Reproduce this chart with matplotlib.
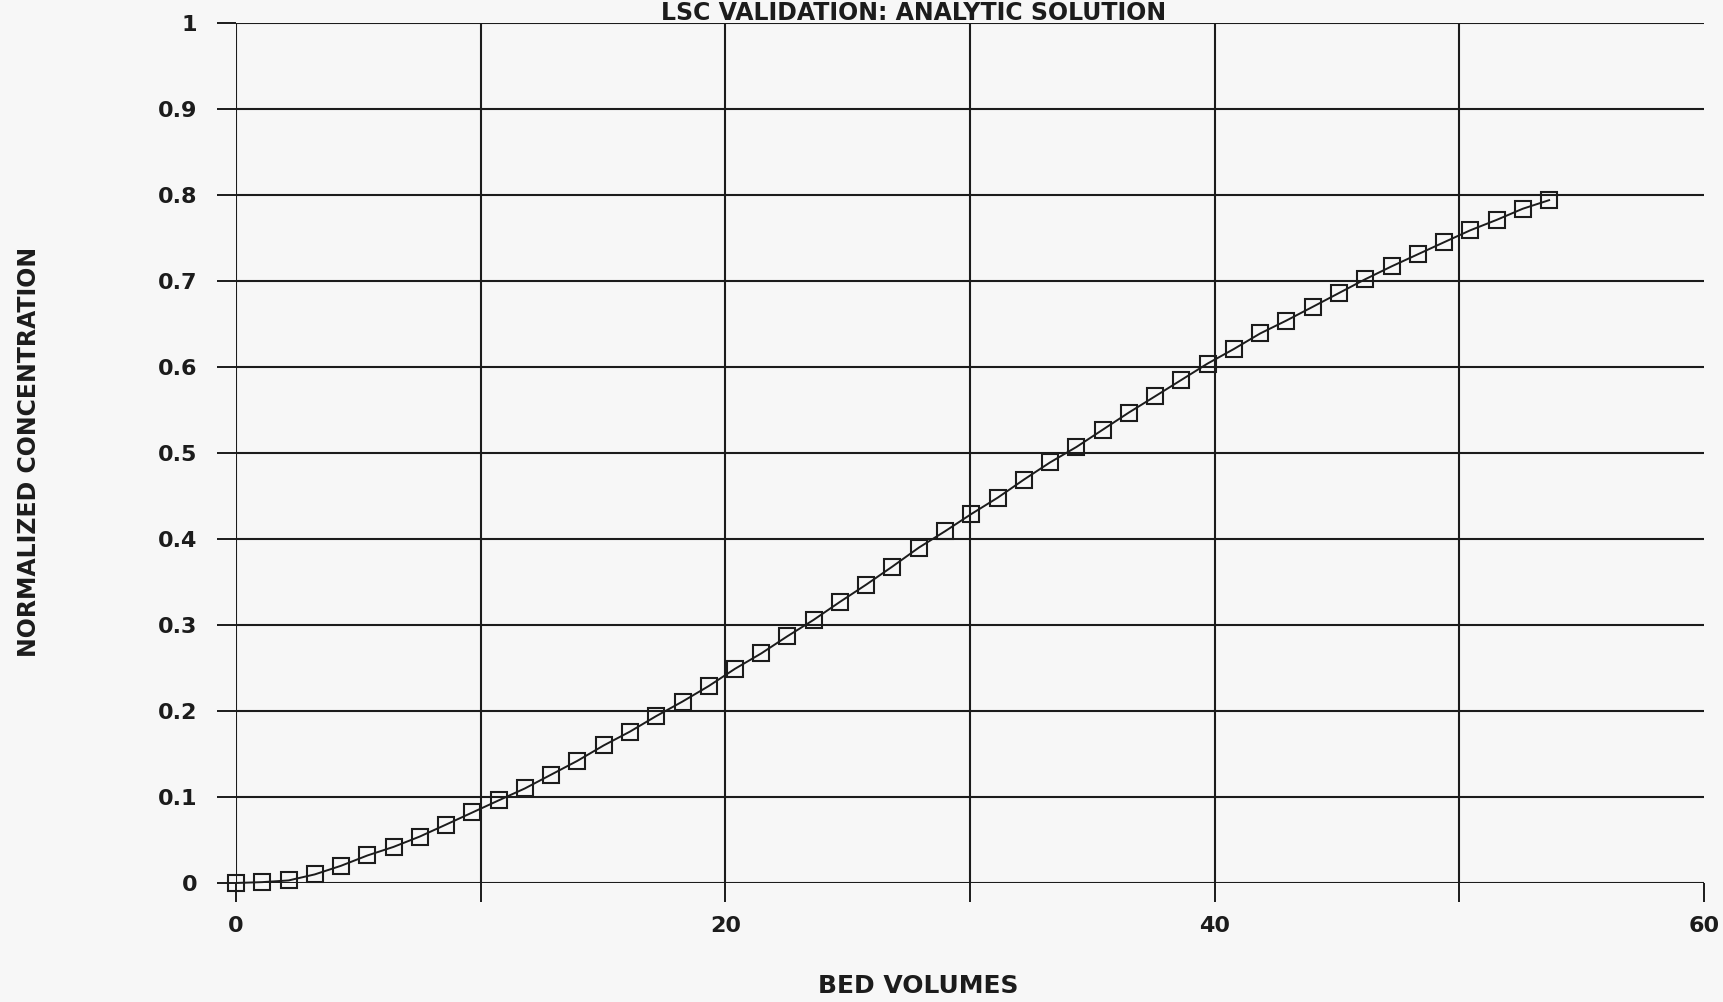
import matplotlib
matplotlib.use("Agg")
import matplotlib.pyplot as plt

# Analytic breakthrough curve: bed volumes vs. normalized concentration
bed_volumes = [0.00, 1.07, 2.15, 3.22, 4.29, 5.37, 6.44, 7.51, 8.59, 9.66,
               10.73, 11.81, 12.88, 13.95, 15.03, 16.10, 17.17, 18.25, 19.32, 20.39,
               21.47, 22.54, 23.61, 24.69, 25.76, 26.83, 27.91, 28.98, 30.05, 31.13,
               32.20, 33.27, 34.35, 35.42, 36.49, 37.57, 38.64, 39.71, 40.79, 41.86,
               42.93, 44.01, 45.08, 46.15, 47.23, 48.30, 49.37, 50.45, 51.52, 52.59,
               53.67]
norm_conc = [0.000, 0.001, 0.003, 0.010, 0.020, 0.032, 0.042, 0.054, 0.068, 0.082,
             0.096, 0.110, 0.126, 0.142, 0.160, 0.176, 0.194, 0.211, 0.229, 0.249,
             0.267, 0.287, 0.306, 0.327, 0.347, 0.368, 0.390, 0.409, 0.429, 0.448,
             0.469, 0.489, 0.507, 0.527, 0.547, 0.566, 0.585, 0.604, 0.621, 0.639,
             0.654, 0.670, 0.686, 0.702, 0.717, 0.731, 0.745, 0.759, 0.771, 0.784,
             0.794]

x_grid = [0, 10, 20, 30, 40, 50]
x_tick_pos = [0, 10, 20, 30, 40, 50, 60]
x_tick_labels = ["0", "", "20", "", "40", "", "60"]
y_ticks = [0, 0.1, 0.2, 0.3, 0.4, 0.5, 0.6, 0.7, 0.8, 0.9, 1.0]
y_tick_labels = ["0", "0.1", "0.2", "0.3", "0.4", "0.5", "0.6", "0.7", "0.8", "0.9", "1"]

title = "LSC VALIDATION: ANALYTIC SOLUTION"
x_label = "BED VOLUMES"
y_label = "NORMALIZED CONCENTRATION"

ink = "#1c1c1c"
paper = "#f7f7f7"

plt.rcParams["font.family"] = ["DejaVu Sans"]

W, H = 1723, 1002
fig = plt.figure(figsize=(W / 100, H / 100), dpi=100, facecolor=paper)

left, right = 236, 1704
top, bottom = 23, 883
ax = fig.add_axes([left / W, 1 - bottom / H, (right - left) / W, (bottom - top) / H])
ax.set_facecolor(paper)
ax.set_xlim(0, 60)
ax.set_ylim(0, 1)

# Grid drawn as plain lines so the frame stays open on the right
for gx in x_grid:
    ax.axvline(gx, color=ink, lw=1.5, zorder=1)
for gy in y_ticks:
    ax.axhline(gy, color=ink, lw=1.5, zorder=1)

for side in ["top", "right", "left", "bottom"]:
    ax.spines[side].set_visible(False)

ax.set_xticks(x_tick_pos)
ax.set_xticklabels(x_tick_labels)
ax.set_yticks(y_ticks)
ax.set_yticklabels(y_tick_labels)
ax.tick_params(axis="both", direction="out", length=14, width=1.4, color=ink,
               labelcolor=ink, labelsize=16)
ax.tick_params(axis="x", pad=10)
ax.tick_params(axis="y", pad=14)
for lbl in ax.get_xticklabels() + ax.get_yticklabels():
    lbl.set_fontweight("bold")

ax.plot(bed_volumes, norm_conc, color=ink, lw=1.4, marker="s", markersize=11.5,
        markerfacecolor="none", markeredgecolor=ink, markeredgewidth=1.5,
        clip_on=False, zorder=3)

fig.text(914 / W, 1 - 20 / H, title, ha="center", va="baseline",
         fontsize=17, fontweight="bold", color=ink)
fig.text(918 / W, 1 - 986 / H, x_label, ha="center", va="center",
         fontsize=18, fontweight="bold", color=ink)
fig.text(29 / W, 1 - 452 / H, y_label, ha="center", va="center", rotation=90,
         fontsize=17, fontweight="bold", color=ink)

fig.savefig("out.png", dpi=100, facecolor=paper)
